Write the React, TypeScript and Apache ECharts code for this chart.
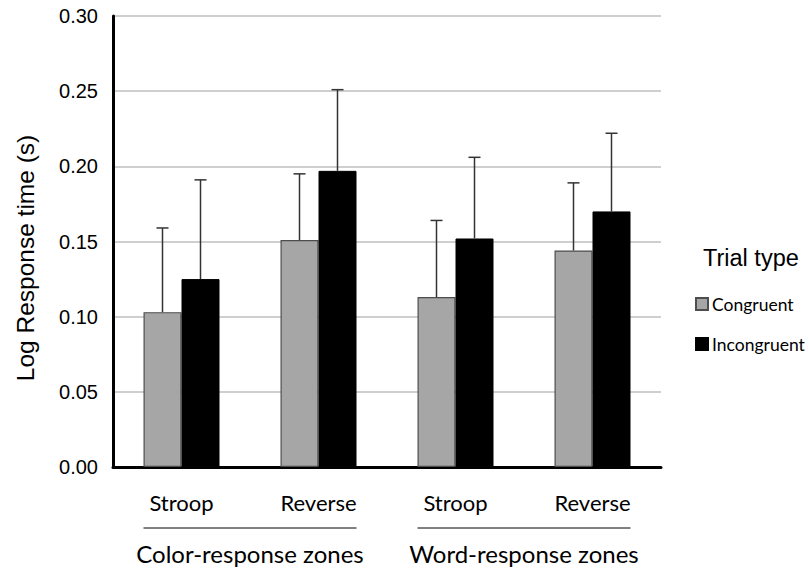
import React, { useEffect, useRef } from "react";
import * as echarts from "echarts";

const categories = ["Stroop", "Reverse", "Stroop", "Reverse"];
const groups = ["Color-response zones", "Word-response zones"];
const seriesNames = ["Congruent", "Incongruent"];
const congruentMeans = [0.103, 0.151, 0.113, 0.144];
const congruentErrors = [0.056, 0.044, 0.051, 0.045];
const incongruentMeans = [0.125, 0.197, 0.152, 0.17];
const incongruentErrors = [0.066, 0.054, 0.054, 0.052];
const yTicks = [0, 0.05, 0.1, 0.15, 0.2, 0.25, 0.3];

const BAR_W = 38;
const SANS = "'Liberation Sans', Arial, sans-serif";
const HUMAN = "Lato, 'Open Sans', sans-serif";

function errorSeries(name: string, means: number[], errs: number[], offset: number) {
  return {
    type: "custom",
    name,
    z: 5,
    data: means.map((m, i) => [i, m, m + errs[i]]),
    renderItem: (params: any, api: any) => {
      const base = api.coord([api.value(0), api.value(1)]);
      const top = api.coord([api.value(0), api.value(2)]);
      const cx = base[0] + offset;
      const style = { stroke: "#333", lineWidth: 1.5 };
      return {
        type: "group",
        children: [
          { type: "line", shape: { x1: cx, y1: base[1], x2: cx, y2: top[1] }, style },
          { type: "line", shape: { x1: cx - 6, y1: top[1], x2: cx + 6, y2: top[1] }, style },
        ],
      };
    },
  };
}

export default function App() {
  const ref = useRef<HTMLDivElement>(null);
  useEffect(() => {
    document.body.style.margin = "0";
    const chart = echarts.init(ref.current!, null, { renderer: "svg" });
    const option: any = {
      animation: false,
      grid: { left: 113, right: 148, top: 16, bottom: 106 },
      xAxis: {
        type: "category",
        data: categories,
        axisLine: { lineStyle: { color: "#000", width: 3 } },
        axisTick: { show: false },
        axisLabel: { color: "#000", fontFamily: HUMAN, fontSize: 22, margin: 24 },
      },
      yAxis: {
        type: "value",
        min: yTicks[0],
        max: yTicks[yTicks.length - 1],
        interval: 0.05,
        axisLine: { show: true, lineStyle: { color: "#000", width: 3 } },
        axisTick: { show: false },
        axisLabel: {
          color: "#000",
          fontFamily: SANS,
          fontSize: 20,
          margin: 15,
          formatter: (v: number) => v.toFixed(2),
        },
        splitLine: { lineStyle: { color: "#bfbfbf", width: 1.5 } },
      },
      legend: {
        data: seriesNames,
        orient: "vertical",
        left: 695,
        top: 295,
        padding: 0,
        icon: "rect",
        itemWidth: 12,
        itemHeight: 12,
        itemGap: 22,
        textStyle: { color: "#000", fontFamily: HUMAN, fontSize: 17.5, padding: [0, 0, 0, -1] },
      },
      series: [
        {
          type: "bar",
          name: seriesNames[0],
          data: congruentMeans,
          barWidth: BAR_W,
          barGap: "0%",
          itemStyle: { color: "#a6a6a6", borderColor: "#4d4d4d", borderWidth: 1.2 },
        },
        {
          type: "bar",
          name: seriesNames[1],
          data: incongruentMeans,
          barWidth: BAR_W,
          barGap: "0%",
          itemStyle: { color: "#000", borderColor: "#000", borderWidth: 1 },
        },
        errorSeries("errC", congruentMeans, congruentErrors, -BAR_W / 2),
        errorSeries("errI", incongruentMeans, incongruentErrors, BAR_W / 2),
      ],
    };
    chart.setOption(option);

    const graphics: any[] = [
      {
        type: "text",
        x: 25,
        y: 258,
        rotation: Math.PI / 2,
        style: {
          text: "Log Response time (s)",
          font: `24.5px ${SANS}`,
          fill: "#000",
          textAlign: "center",
          textVerticalAlign: "middle",
        },
      },
      {
        type: "text",
        x: 703,
        y: 258,
        style: {
          text: "Trial type",
          font: `23.5px ${SANS}`,
          fill: "#000",
          textAlign: "left",
          textVerticalAlign: "middle",
        },
      },
    ];
    groups.forEach((g, gi) => {
      const a = chart.convertToPixel({ xAxisIndex: 0 }, gi * 2) as number;
      const b = chart.convertToPixel({ xAxisIndex: 0 }, gi * 2 + 1) as number;
      const x1 = a - BAR_W;
      const x2 = b + BAR_W;
      graphics.push({
        type: "line",
        shape: { x1, y1: 528, x2, y2: 528 },
        style: { stroke: "#000", lineWidth: 1 },
      });
      graphics.push({
        type: "text",
        x: (x1 + x2) / 2,
        y: 553,
        style: {
          text: g,
          font: `24px ${HUMAN}`,
          fill: "#000",
          textAlign: "center",
          textVerticalAlign: "middle",
        },
      });
    });
    chart.setOption({ graphic: graphics });
    return () => chart.dispose();
  }, []);
  return <div ref={ref} style={{ width: 809, height: 573 }} />;
}
